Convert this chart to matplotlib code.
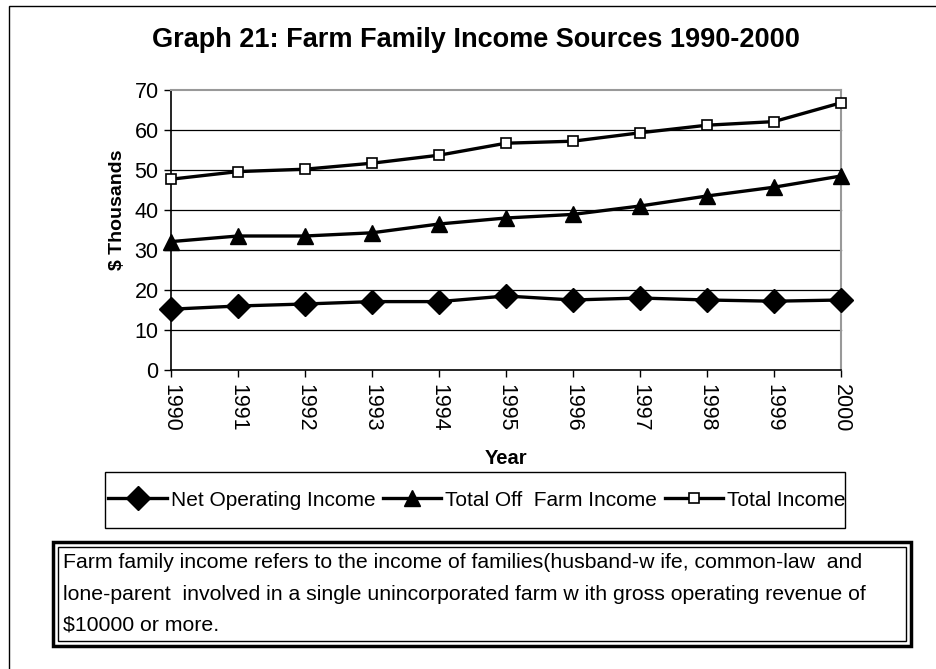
import matplotlib
matplotlib.use("Agg")
import matplotlib.pyplot as plt
from matplotlib.patches import Rectangle

plt.rcParams['font.family'] = ['Liberation Sans', 'DejaVu Sans']

years = ["1990", "1991", "1992", "1993", "1994", "1995", "1996", "1997", "1998", "1999", "2000"]
net_operating = [15.2, 16.0, 16.5, 17.1, 17.1, 18.5, 17.5, 18.0, 17.5, 17.2, 17.5]
off_farm = [32.1, 33.5, 33.5, 34.3, 36.5, 38.0, 38.9, 41.0, 43.5, 45.7, 48.5]
total_income = [47.7, 49.6, 50.2, 51.7, 53.7, 56.7, 57.2, 59.3, 61.2, 62.1, 66.8]
yticks = [0, 10, 20, 30, 40, 50, 60, 70]

W, H = 936, 669
fig = plt.figure(figsize=(W / 100, H / 100), dpi=100)

def fx(px):
    return px / W

def fy(py):
    return 1 - py / H

# outer frame
fig.add_artist(Rectangle((fx(9), fy(700)), fx(1000), fy(6) - fy(700), transform=fig.transFigure,
                         fill=False, edgecolor='black', linewidth=1.0))

ax = fig.add_axes([fx(171), fy(370), fx(841) - fx(171), fy(90) - fy(370)])
x = list(range(len(years)))

ax.plot(x, net_operating, color='black', linewidth=2.4, marker='D', markersize=12,
        markerfacecolor='black', markeredgecolor='black', label='Net Operating Income', zorder=3)
ax.plot(x, off_farm, color='black', linewidth=2.4, marker='^', markersize=11,
        markerfacecolor='black', markeredgecolor='black', label='Total Off  Farm Income', zorder=3)
ax.plot(x, total_income, color='black', linewidth=2.4, marker='s', markersize=7,
        markerfacecolor='white', markeredgecolor='black', markeredgewidth=1.2,
        label='Total Income', zorder=3)

ax.set_xlim(0, len(years) - 1)
ax.set_ylim(0, 70)
ax.set_yticks(yticks)
ax.set_yticklabels([str(v) for v in yticks], fontsize=15.5)
ax.set_xticks(x)
ax.set_xticklabels(years, rotation=270, fontsize=15.5)
ax.tick_params(axis='both', direction='out', length=5, width=1, color='black')
ax.tick_params(axis='y', pad=4)
ax.tick_params(axis='x', pad=5)
for v in yticks[1:-1]:
    ax.axhline(v, color='black', linewidth=0.9, zorder=1)
ax.spines['top'].set_color('#999999')
ax.spines['right'].set_color('#999999')
ax.spines['top'].set_linewidth(1.5)
ax.spines['right'].set_linewidth(1.5)
ax.spines['left'].set_linewidth(1.2)
ax.spines['bottom'].set_linewidth(1.2)
for ln in ax.lines:
    ln.set_clip_on(False)

fig.text(fx(476), fy(40), "Graph 21: Farm Family Income Sources 1990-2000", ha='center', va='center',
         fontsize=19.5, fontweight='bold')
fig.text(fx(118), fy(210), "$ Thousands", ha='center', va='center', rotation=90,
         fontsize=14, fontweight='bold')
fig.text(fx(506), fy(458), "Year", ha='center', va='center', fontsize=14.5, fontweight='bold')

# legend frame drawn separately
fig.add_artist(Rectangle((fx(105), fy(528)), fx(845) - fx(105), fy(472) - fy(528),
                         transform=fig.transFigure, fill=False, edgecolor='black', linewidth=1.0))
leg = fig.legend(loc='center', bbox_to_anchor=(fx(477), fy(500)), ncol=3, fontsize=15,
                 frameon=False, handlelength=2.8, handletextpad=0.2, columnspacing=0.35,
                 borderpad=0.2, borderaxespad=0)

# double-bordered text box
fig.add_artist(Rectangle((fx(53), fy(646)), fx(911) - fx(53), fy(542) - fy(646),
                         transform=fig.transFigure, fill=True, facecolor='white',
                         edgecolor='black', linewidth=2.5))
fig.add_artist(Rectangle((fx(58), fy(641)), fx(906) - fx(58), fy(547) - fy(641),
                         transform=fig.transFigure, fill=False, edgecolor='black', linewidth=1.0))
lines = ["Farm family income refers to the income of families(husband-w ife, common-law  and",
         "lone-parent  involved in a single unincorporated farm w ith gross operating revenue of",
         "$10000 or more."]
for i, t in enumerate(lines):
    fig.text(fx(63), fy(563 + 31 * i), t, ha='left', va='center', fontsize=15.3)

fig.savefig("out.png", dpi=100)
